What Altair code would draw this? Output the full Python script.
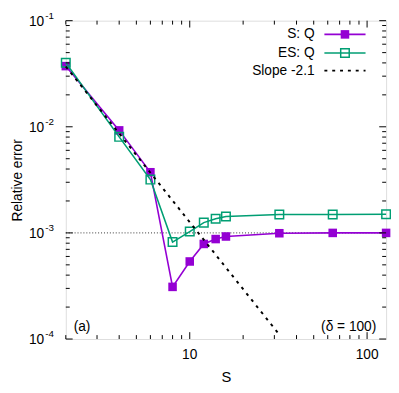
import altair as alt
import pandas as pd

# ---- data ----
S = [2, 4, 6, 8, 10, 12, 14, 16, 32, 64, 128]
s_q = [0.0373, 0.00925, 0.00373, 0.00031, 0.000538, 0.000787, 0.000875, 0.000925, 0.000993, 0.001, 0.001]
es_q = [0.0401, 0.00804, 0.00318, 0.00082, 0.00103, 0.00125, 0.00136, 0.00143, 0.00149, 0.00149, 0.0015]
slope_x = [2, 32]
slope_y = [0.037, 0.00011]
ref_level = [0.001]

x_major = [10, 100]
x_major_labels = ["10", "100"]
x_minor = [2, 3, 4, 5, 6, 7, 8, 9, 20, 30, 40, 50, 60, 70, 80, 90]
y_major = [1e-4, 1e-3, 1e-2, 1e-1]
y_major_exp = ["-4", "-3", "-2", "-1"]
y_minor = [m * 10.0 ** e for e in (-4, -3, -2) for m in range(2, 10)]

W, H = 327, 325
FONT = "Liberation Sans"
PURPLE = "#9400d3"
GREEN = "#009e73"

xscale = alt.Scale(type="log", domain=[2, 128], nice=False)
yscale = alt.Scale(type="log", domain=[1e-4, 1e-1], nice=False)
xaxis = alt.Axis(title="S", labels=False, ticks=False, domain=False, grid=False,
                 titleFont=FONT, titleFontSize=15, titleFontWeight="normal",
                 titlePadding=31, titleColor="black")
yaxis = alt.Axis(title="Relative error", labels=False, ticks=False, domain=False, grid=False,
                 titleFont=FONT, titleFontSize=14, titleFontWeight="normal",
                 titlePadding=42, titleColor="black")


def X(field):
    return alt.X(field, type="quantitative", scale=xscale, axis=xaxis)


def Y(field):
    return alt.Y(field, type="quantitative", scale=yscale, axis=yaxis)


one = pd.DataFrame({"d": [0]})
df_s = pd.DataFrame({"S": S, "v": s_q})
df_es = pd.DataFrame({"S": S, "v": es_q})
df_slope = pd.DataFrame({"S": slope_x, "v": slope_y})
df_ref = pd.DataFrame({"v": ref_level})

layers = []

# reference dotted line at 1e-3
layers.append(alt.Chart(df_ref).mark_rule(color="#333333", strokeWidth=1, strokeDash=[1, 2]).encode(
    y=Y("v"), x=alt.value(0), x2=alt.value(W)))

# S: Q
layers.append(alt.Chart(df_s).mark_line(color=PURPLE, strokeWidth=1.6).encode(x=X("S"), y=Y("v")))
layers.append(alt.Chart(df_s).mark_point(shape="square", filled=True, color=PURPLE, size=76, opacity=1).encode(
    x=X("S"), y=Y("v")))

# ES: Q
layers.append(alt.Chart(df_es).mark_line(color=GREEN, strokeWidth=1.6).encode(x=X("S"), y=Y("v")))
layers.append(alt.Chart(df_es).mark_point(shape="square", filled=False, color=GREEN, size=76,
                                          strokeWidth=1.5, opacity=1).encode(x=X("S"), y=Y("v")))

# slope line
layers.append(alt.Chart(df_slope).mark_line(color="black", strokeWidth=2, strokeDash=[3, 5]).encode(
    x=X("S"), y=Y("v")))

# inward ticks
df_xmaj = pd.DataFrame({"t": x_major, "lab": x_major_labels})
df_xmin = pd.DataFrame({"t": x_minor})
df_ymaj = pd.DataFrame({"t": y_major, "exp": y_major_exp})
df_ymin = pd.DataFrame({"t": y_minor})
for df_t, ln in ((df_xmaj, 7), (df_xmin, 4)):
    layers.append(alt.Chart(df_t).mark_rule(color="black", strokeWidth=1).encode(
        x=X("t"), y=alt.value(H), y2=alt.value(H - ln)))
    layers.append(alt.Chart(df_t).mark_rule(color="black", strokeWidth=1).encode(
        x=X("t"), y=alt.value(0), y2=alt.value(ln)))
for df_t, ln in ((df_ymaj, 7), (df_ymin, 4)):
    layers.append(alt.Chart(df_t).mark_rule(color="black", strokeWidth=1).encode(
        y=Y("t"), x=alt.value(0), x2=alt.value(ln)))
    layers.append(alt.Chart(df_t).mark_rule(color="black", strokeWidth=1).encode(
        y=Y("t"), x=alt.value(W), x2=alt.value(W - ln)))

# tick labels
layers.append(alt.Chart(df_xmaj).mark_text(font=FONT, fontSize=14, align="center", baseline="middle",
                                           color="black").encode(
    x=X("t"), y=alt.value(H + 16), text="lab:N"))
layers.append(alt.Chart(df_ymaj).mark_text(font=FONT, fontSize=14, align="right", baseline="middle",
                                           color="black", dy=1).encode(
    y=Y("t"), x=alt.value(-22), text=alt.value("10")))
layers.append(alt.Chart(df_ymaj).mark_text(font=FONT, fontSize=10, align="left", baseline="middle",
                                           color="black", dy=-5).encode(
    y=Y("t"), x=alt.value(-21), text="exp:N"))

# annotations
layers.append(alt.Chart(one).mark_text(font=FONT, fontSize=14, align="left", baseline="middle",
                                       color="black").encode(
    x=alt.value(8), y=alt.value(H - 12), text=alt.value("(a)")))
layers.append(alt.Chart(one).mark_text(font=FONT, fontSize=14, align="right", baseline="middle",
                                       color="black").encode(
    x=alt.value(317), y=alt.value(H - 12), text=alt.value("(δ = 100)")))

# legend
legend_rows = [("S: Q", PURPLE, "filled", 14), ("ES: Q", GREEN, "open", 33), ("Slope -2.1", "black", "dash", 51)]
for label, col, kind, yy in legend_rows:
    layers.append(alt.Chart(one).mark_text(font=FONT, fontSize=14, align="right", baseline="middle",
                                           color="black").encode(
        x=alt.value(254), y=alt.value(yy), text=alt.value(label)))
    if kind == "dash":
        layers.append(alt.Chart(one).mark_rule(color=col, strokeWidth=2, strokeDash=[3, 5]).encode(
            x=alt.value(264), x2=alt.value(306), y=alt.value(yy)))
    else:
        layers.append(alt.Chart(one).mark_rule(color=col, strokeWidth=1.6).encode(
            x=alt.value(264), x2=alt.value(306), y=alt.value(yy)))
        layers.append(alt.Chart(one).mark_point(shape="square", filled=(kind == "filled"), color=col,
                                                size=76, strokeWidth=1.5, opacity=1).encode(
            x=alt.value(285), y=alt.value(yy)))

chart = alt.layer(*layers).properties(
    width=W, height=H,
    autosize=alt.AutoSizeParams(type="none"),
    padding={"left": 59, "top": 9, "right": 5, "bottom": 43},
).configure_view(stroke="black", strokeWidth=1.5).configure(background="white")

chart.save("out.html", embed_options={"renderer": "svg", "actions": False})
